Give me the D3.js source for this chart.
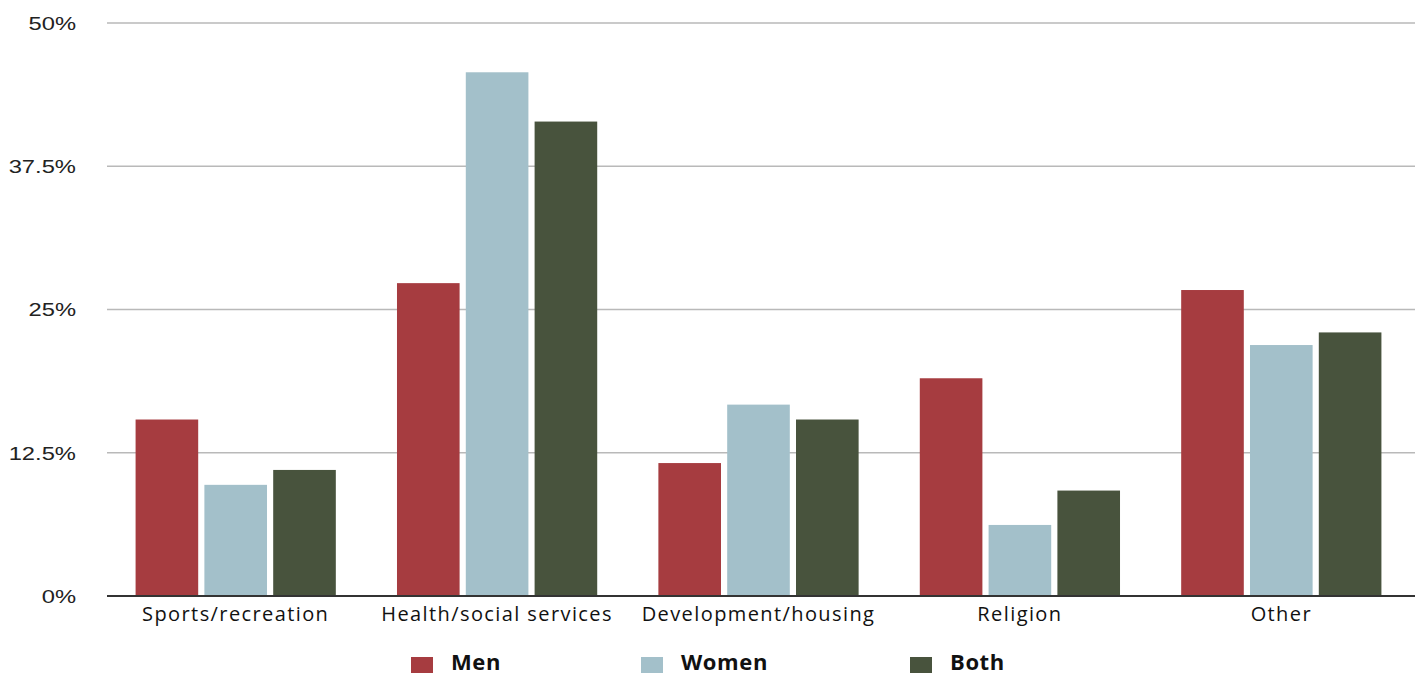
<!DOCTYPE html>
<html>
<head>
<meta charset="utf-8">
<script src="https://cdn.jsdelivr.net/npm/d3@7/dist/d3.min.js"></script>
<style>
  html, body { margin: 0; padding: 0; background: #fff; overflow: hidden; }
  svg { display: block; }
</style>
</head>
<body>
<svg id="chart" width="1418" height="673"></svg>
<script>
const categories = ["Sports/recreation", "Health/social services", "Development/housing", "Religion", "Other"];
const seriesNames = ["Men", "Women", "Both"];
const men   = [15.4, 27.3, 11.6, 19.0, 26.7];
const women = [9.7, 45.7, 16.7, 6.2, 21.9];
const both  = [11.0, 41.4, 15.4, 9.2, 23.0];
const yTicks = [0, 12.5, 25, 37.5, 50];
const yTickLabels = ["0%", "12.5%", "25%", "37.5%", "50%"];
const colors = ["#a63c40", "#a3c0ca", "#48533d"];

(function () {
const seriesValues = [men, women, both];
const data = categories.map((c, i) => ({
  category: c,
  values: seriesNames.map((s, j) => ({ key: s, value: seriesValues[j][i] }))
}));

const svg = d3.select("#chart");
const plotLeft = 107, plotRight = 1415, plotTop = 23, plotBottom = 596;

const y = d3.scaleLinear().domain([0, 50]).range([plotBottom, plotTop]);
const x0 = d3.scaleBand().domain(categories).range([105, 1412]).paddingInner(0.234).paddingOuter(0.117);
const x1 = d3.scaleBand().domain(seriesNames).range([0, x0.bandwidth()]).paddingInner(0.09);
const color = d3.scaleOrdinal().domain(seriesNames).range(colors);

// gridlines
svg.append("g").selectAll("line")
  .data(yTicks.filter(t => t > 0))
  .join("line")
  .attr("x1", plotLeft).attr("x2", plotRight)
  .attr("y1", d => y(d)).attr("y2", d => y(d))
  .attr("stroke", "#b9b9b9").attr("stroke-width", 1.5);

// y axis labels
const yAxis = d3.axisLeft(y).tickValues(yTicks)
  .tickFormat((d, i) => yTickLabels[i]).tickSize(0).tickPadding(0);
const yg = svg.append("g").attr("transform", "translate(76,0)").call(yAxis);
yg.select(".domain").remove();
yg.selectAll("text")
  .attr("x", 0)
  .attr("font-family", "'Liberation Sans', Arial, sans-serif")
  .attr("font-size", 18).attr("fill", "#222").attr("dy", "0.36em")
  .attr("transform", "scale(1.32,1)");

// bars
svg.append("g").selectAll("g")
  .data(data)
  .join("g")
  .attr("transform", d => `translate(${x0(d.category)},0)`)
  .selectAll("rect")
  .data(d => d.values)
  .join("rect")
  .attr("x", d => x1(d.key))
  .attr("width", x1.bandwidth())
  .attr("y", d => y(d.value))
  .attr("height", d => y(0) - y(d.value))
  .attr("fill", d => color(d.key));

// x axis
const xAxis = d3.axisBottom(x0).tickSize(0).tickPadding(11);
const xg = svg.append("g").attr("transform", `translate(0,${plotBottom})`).call(xAxis);
xg.select(".domain").remove();
xg.selectAll("text")
  .attr("font-family", "'Open Sans', sans-serif")
  .attr("font-size", 20).attr("letter-spacing", "1.4px").attr("fill", "#111");
svg.append("line")
  .attr("x1", plotLeft).attr("x2", plotRight)
  .attr("y1", plotBottom).attr("y2", plotBottom)
  .attr("stroke", "#333").attr("stroke-width", 2);

// legend
const legendX = [411, 641, 910];
const lg = svg.append("g").selectAll("g")
  .data(seriesNames)
  .join("g")
  .attr("transform", (d, i) => `translate(${legendX[i]},657)`);
lg.append("rect").attr("width", 22).attr("height", 16).attr("fill", d => color(d));
lg.append("text")
  .attr("x", 40).attr("y", 13)
  .attr("font-family", "'Open Sans', sans-serif")
  .attr("font-weight", "bold").attr("font-size", 22).attr("letter-spacing", "0.6px").attr("fill", "#111")
  .text(d => d);
})();
</script>
</body>
</html>
